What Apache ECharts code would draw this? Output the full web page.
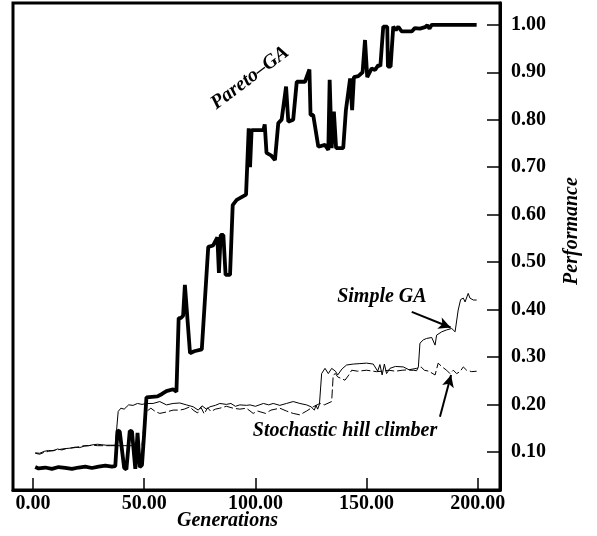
<!DOCTYPE html>
<html><head><meta charset="utf-8">
<script src="https://cdn.jsdelivr.net/npm/echarts@6/dist/echarts.min.js"></script>
<style>html,body{margin:0;padding:0;background:#fff}#c{width:597px;height:536px}</style>
</head><body><div id="c"></div>
<script>
const xTicks = [0, 50, 100, 150, 200];
const yTicks = [0.1, 0.2, 0.3, 0.4, 0.5, 0.6, 0.7, 0.8, 0.9, 1.0];

const paretoGen = [1,2.5,5.5,8.5,11.5,14.5,17.5,20.5,23.5,26.5,29.5,32.5,35.5,37,38,39,41,42,43.5,44.5,46,47,48,49,50,51,56,58,60,63,64.5,65.5,66.5,67.5,68.3,70.6,72.5,75.9,78.8,81,82.9,83.6,84.4,85.6,86.6,88.6,89.8,91.6,95.8,96.3,97,97.6,98.3,103.6,104.2,105,107,108.8,110.3,111.8,113.8,114.8,115.6,117,118.6,122.3,124.3,124.8,126,128.3,131.3,132.8,133.4,134.3,135.3,136.3,139.5,140.7,141.5,142.6,143.5,144.3,146.3,148.2,149.3,150.3,152.3,153.8,155.3,156.2,157.5,159.3,159.6,160.8,162,163.2,164.3,165.8,168,170.3,171.7,174,176.3,177.3,178.3,179.3,199.5];
const paretoPerf = [.068,.065,.067,.064,.068,.066,.064,.067,.069,.066,.069,.071,.069,.070,.145,.143,.066,.063,.144,.143,.064,.140,.068,.072,.140,.215,.217,.222,.228,.232,.227,.382,.382,.387,.452,.308,.312,.316,.532,.535,.552,.477,.557,.557,.473,.473,.620,.631,.642,.700,.782,.700,.778,.778,.790,.730,.725,.715,.793,.800,.870,.796,.800,.800,.880,.880,.906,.810,.810,.743,.747,.736,.884,.740,.817,.740,.740,.820,.822,.887,.820,.890,.892,.900,.968,.890,.908,.905,.915,.913,.996,.996,.912,.912,.996,.989,.996,.986,.986,.986,.993,.992,.995,.999,.992,1.0,1.0];

const simpleGen = [1,3,5,7,9,11,13,15,17,19,21,23,25,27,29,31,33,35,37,38.3,39.5,41,43,45,47,49,51,54,57,60,63,66,69,72,74.3,76,78,79.6,82,84,87,89,91,93,96,97.6,100,103.6,106,108,111,114,117,120,123,125,126.5,127.3,128,128.8,129.8,131.3,132.8,134.3,136,137,139,141,144,147,150,153,155,156,157,158,159,160.5,163,166.5,169.5,171,172.5,173.3,174,175.5,177,179.3,180.8,181.5,183.8,186,188.3,189.8,191.2,192.3,193.5,194.3,195.7,196.5,198,199.5];
const simplePerf = [.098,.097,.101,.103,.102,.106,.104,.107,.108,.110,.109,.112,.113,.115,.116,.115,.114,.114,.114,.185,.192,.190,.199,.198,.202,.200,.202,.202,.206,.199,.202,.203,.199,.195,.188,.197,.190,.195,.198,.202,.200,.202,.196,.199,.198,.199,.196,.202,.199,.202,.198,.202,.206,.202,.199,.195,.188,.198,.190,.200,.265,.276,.265,.276,.270,.262,.275,.283,.285,.286,.287,.285,.270,.284,.262,.285,.265,.276,.280,.279,.272,.272,.271,.279,.329,.336,.339,.341,.325,.346,.353,.357,.360,.353,.399,.421,.424,.416,.434,.424,.420,.420];

const hillGen = [1,3,5,7,9,11,13,15,17,19,21,23,25,27,29,31,33,35,37,39,41,43,45,47,49,50.3,51,53,55,57,60,63,66,68,70.6,72,74,75.5,77,78.5,80,82,84,87,90,93,96,99,101,104.6,107,111,114,117,120,123,126,129,131,134.3,135,136,137,140.3,142,143.3,146,150,154.5,157,160,163,166,169,172.5,174.5,176,178,180.8,182.2,184,186,187.5,189,190.5,192,193.5,195,197.3,199.5];
const hillPerf = [.097,.095,.099,.101,.103,.104,.106,.107,.108,.109,.111,.113,.113,.114,.113,.113,.113,.113,.113,.113,.113,.113,.113,.113,.113,.180,.185,.192,.185,.181,.184,.188,.188,.190,.195,.188,.182,.194,.180,.193,.185,.190,.192,.196,.192,.190,.192,.181,.186,.181,.188,.192,.186,.181,.178,.186,.195,.202,.199,.206,.262,.265,.258,.251,.262,.272,.270,.272,.269,.270,.272,.270,.272,.273,.276,.279,.272,.270,.262,.287,.279,.272,.265,.272,.265,.269,.279,.272,.269,.270];

const zip = (a, b) => a.map((g, i) => [g, b[i]]);
const FONT = 'Liberation Serif';
const chart = echarts.init(document.getElementById('c'), null, {renderer: 'canvas'});

const option = {
  animation: false,
  backgroundColor: '#fff',
  grid: {left: 13, right: 97, top: 3, bottom: 46, show: true, borderColor: '#000', borderWidth: 3},
  xAxis: {
    type: 'value', min: -9, max: 210,
    axisLine: {show: true, onZero: false, lineStyle: {color: '#000', width: 3}},
    axisTick: {show: true, inside: true, length: 12, customValues: xTicks, lineStyle: {color: '#000', width: 1.5}},
    axisLabel: {customValues: xTicks, margin: 4, color: '#000', fontFamily: FONT, fontWeight: 'bold', fontSize: 20,
      formatter: v => Number(v).toFixed(2)},
    splitLine: {show: false}
  },
  yAxis: {
    type: 'value', position: 'right', min: 0.0196, max: 1.046,
    axisLine: {show: true, onZero: false, lineStyle: {color: '#000', width: 3}},
    axisTick: {show: true, inside: true, length: 13, customValues: yTicks, lineStyle: {color: '#000', width: 1.5}},
    axisLabel: {customValues: yTicks, margin: 11, color: '#000', fontFamily: FONT, fontWeight: 'bold', fontSize: 20,
      formatter: v => Number(v).toFixed(2)},
    splitLine: {show: false}
  },
  series: [
    {name: 'Pareto-GA', type: 'line', data: zip(paretoGen, paretoPerf), symbol: 'none', lineStyle: {color: '#000', width: 3.8}, z: 5},
    {name: 'Simple GA', type: 'line', data: zip(simpleGen, simplePerf), symbol: 'none', lineStyle: {color: '#000', width: 1}, z: 4,
      markLine: {silent: true, symbolSize: [9, 12], lineStyle: {color: '#000', width: 2, type: 'solid'}, label: {show: false},
        data: [[{coord: [170.3, 0.395], symbol: 'none'}, {coord: [187.8, 0.362], symbol: 'arrow'}]]}},
    {name: 'Stochastic hill climber', type: 'line', data: zip(hillGen, hillPerf), symbol: 'none', lineStyle: {color: '#000', width: 1, type: [9, 3]}, z: 3,
      markLine: {silent: true, symbolSize: [9, 12], lineStyle: {color: '#000', width: 2, type: 'solid'}, label: {show: false},
        data: [[{coord: [183.0, 0.174], symbol: 'none'}, {coord: [188.0, 0.262], symbol: 'arrow'}]]}}
  ]
};
chart.setOption(option);

const px = (g, v) => chart.convertToPixel({gridIndex: 0}, [g, v]);
const pS = px(156.9, 0.426), pH = px(140.3, 0.144), pP = px(97.6, 0.888);
const txt = (x, y, text, rot) => ({
  type: 'text', x: x, y: y, rotation: rot || 0,
  style: {text: text, fill: '#000', font: 'italic bold 20px "Liberation Serif"', textAlign: 'center', textVerticalAlign: 'middle'}
});
chart.setOption({graphic: [
  txt(pS[0], pS[1], 'Simple GA'),
  txt(pH[0], pH[1], 'Stochastic hill climber'),
  txt(pP[0], pP[1], 'Pareto\u2013GA', 37 * Math.PI / 180),
  txt(227.5, 521, 'Generations'),
  txt(572, 231, 'Performance', Math.PI / 2)
]});
</script></body></html>
